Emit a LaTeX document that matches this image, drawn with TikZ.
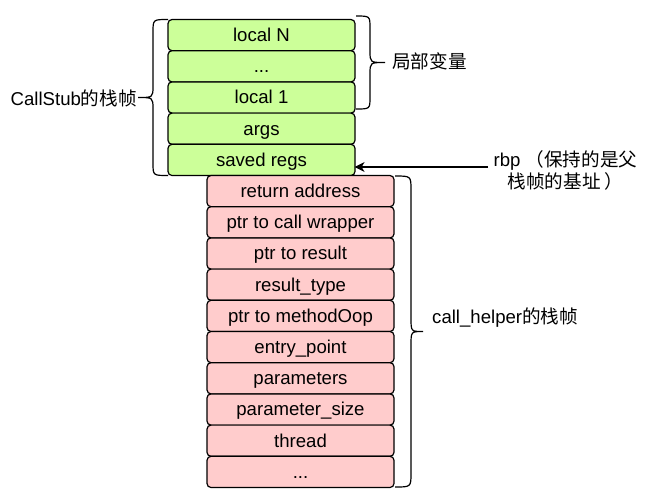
\documentclass[tikz,border=0pt]{standalone}
\usepackage{fontspec}
\setmainfont{Liberation Sans}
\newfontfamily\cjk{Noto Sans CJK SC}
\usetikzlibrary{arrows.meta}
\definecolor{cellgreen}{HTML}{CCFF99}
\definecolor{cellpink}{HTML}{FFCCCC}
\begin{document}
\begin{tikzpicture}[x=1pt,y=-1pt,
  cell/.style={draw=black, line width=1.2pt, rounded corners=4pt, minimum width=187pt, minimum height=31.2pt, inner sep=0pt, text height=16.8pt, text depth=4pt, font=\fontsize{18.6}{22}\selectfont, text=black},
  gcell/.style={cell, fill=cellgreen},
  pcell/.style={cell, fill=cellpink},
  brace/.style={draw=black, line width=1.2pt},
  lbl/.style={font=\fontsize{18.6}{22}\selectfont, inner sep=0pt, text=black},
  arr/.style={draw=black, line width=1.2pt, -{Stealth[length=10pt,width=10pt,inset=3pt]}}]
\useasboundingbox (0,0) rectangle (647,501);
% CallStub frame
\node[gcell] (g1) at (261.5,35.1) {local N};
\node[gcell] (g2) at (261.5,66.3) {...};
\node[gcell] (g3) at (261.5,97.5) {local 1};
\node[gcell] (g4) at (261.5,128.7) {args};
\node[gcell] (g5) at (261.5,159.9) {saved regs};
% call_helper frame
\node[pcell] (p1) at (300.5,191.1) {return address};
\node[pcell] (p2) at (300.5,222.3) {ptr to call wrapper};
\node[pcell] (p3) at (300.5,253.5) {ptr to result};
\node[pcell] (p4) at (300.5,284.7) {result\_type};
\node[pcell] (p5) at (300.5,315.9) {ptr to methodOop};
\node[pcell] (p6) at (300.5,347.1) {entry\_point};
\node[pcell] (p7) at (300.5,378.3) {parameters};
\node[pcell] (p8) at (300.5,409.5) {parameter\_size};
\node[pcell] (p9) at (300.5,440.7) {thread};
\node[pcell] (p10) at (300.5,471.9) {...};
% braces
\draw[brace] (168,19.5) .. controls (153,19.5) .. (153,32) -- (153,86) .. controls (153,97.5) .. (138,97.5) .. controls (153,97.5) .. (153,109) -- (153,163) .. controls (153,175.5) .. (168,175.5);
\draw[brace] (356,16) .. controls (370,16) .. (370,28) -- (370,51) .. controls (370,62.5) .. (385,62.5) .. controls (370,62.5) .. (370,74) -- (370,97) .. controls (370,109) .. (356,109);
\draw[brace] (395,176) .. controls (411,176) .. (411,190) -- (411,318) .. controls (411,331.5) .. (423,331.5) .. controls (411,331.5) .. (411,345) -- (411,473) .. controls (411,487) .. (395,487);
% labels
\node[lbl, anchor=east] (cs) at (137,98) {CallStub{\cjk 的栈帧}};
\node[lbl, anchor=west] (lv) at (392,61) {\cjk 局部变量};
\node[lbl, anchor=west] (ch) at (432,318) {call\_helper{\cjk 的栈帧}};
\node[lbl, align=center] (rbp) at (565.5,170) {rbp {\cjk （保持的是父}\\{\cjk 栈帧的基址\kern4pt）}};
% rbp arrow
\coordinate (rbptail) at (488,167);
\draw[arr, shorten >=-1pt] (rbptail) -- (rbptail -| g5.east);
\end{tikzpicture}
\end{document}
